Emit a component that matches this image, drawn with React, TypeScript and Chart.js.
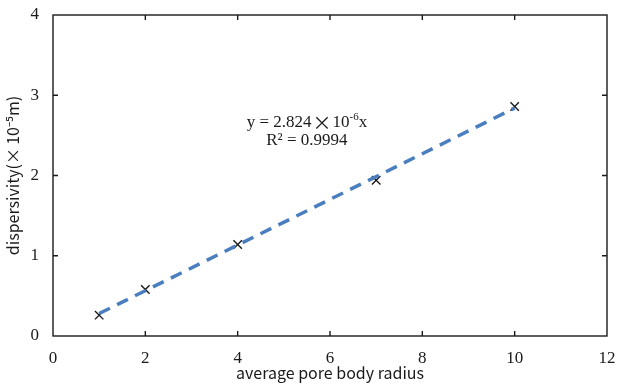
import React, { useEffect, useRef } from "react";
import { Chart, registerables } from "chart.js";

Chart.register(...registerables);

const radiusX = [1, 2, 4, 7, 10];
const dispersivityY = [0.26, 0.58, 1.14, 1.94, 2.86];
const fitX = [1, 10];
const fitY = [0.28, 2.84];
const xTicks = [0, 2, 4, 6, 8, 10, 12];
const yTicks = [0, 1, 2, 3, 4];
const eqParts = { pre: "y = 2.824", times: "\u00D7", ten: "10", sup: "-6", post: "x" };
const eqLine2 = "R\u00B2 = 0.9994";
const eqPos = { x: 5.5, y: 2.66 };

const framePlugin = {
  id: "frame",
  afterDraw(chart: any) {
    const { ctx, chartArea: a, scales } = chart;
    const xs = scales.x;
    const ys = scales.y;
    ctx.save();
    ctx.strokeStyle = "#1a1a1a";
    ctx.lineWidth = 1.4;
    ctx.strokeRect(a.left, a.top, a.right - a.left, a.bottom - a.top);
    const tl = 5;
    ctx.beginPath();
    xTicks.slice(1, -1).forEach((v) => {
      const px = xs.getPixelForValue(v);
      ctx.moveTo(px, a.bottom);
      ctx.lineTo(px, a.bottom - tl);
      ctx.moveTo(px, a.top);
      ctx.lineTo(px, a.top + tl);
    });
    yTicks.slice(1, -1).forEach((v) => {
      const py = ys.getPixelForValue(v);
      ctx.moveTo(a.left, py);
      ctx.lineTo(a.left + tl, py);
      ctx.moveTo(a.right, py);
      ctx.lineTo(a.right - tl, py);
    });
    ctx.stroke();

    // equation text
    const cx = xs.getPixelForValue(eqPos.x);
    const cy = ys.getPixelForValue(eqPos.y);
    ctx.fillStyle = "#1a1a1a";
    ctx.textBaseline = "middle";
    const big = "17px 'Liberation Serif', serif";
    const cross = "19px 'Noto Sans CJK SC', 'DejaVu Sans', sans-serif";
    const small = "11px 'Liberation Serif', serif";
    const parts = [
      { t: eqParts.pre, f: big, dy: 0, pad: 1 },
      { t: eqParts.times, f: cross, dy: 0, pad: 1 },
      { t: eqParts.ten, f: big, dy: 0, pad: 0 },
      { t: eqParts.sup, f: small, dy: -5, pad: 0 },
      { t: eqParts.post, f: big, dy: 0, pad: 0 },
    ];
    let total = 0;
    const widths = parts.map((p) => {
      ctx.font = p.f;
      const w = ctx.measureText(p.t).width + p.pad;
      total += w;
      return w;
    });
    let x0 = cx - total / 2;
    ctx.textAlign = "left";
    parts.forEach((p, i) => {
      ctx.font = p.f;
      ctx.fillText(p.t, x0, cy + p.dy);
      x0 += widths[i];
    });
    ctx.font = big;
    ctx.textAlign = "center";
    ctx.fillText(eqLine2, cx, cy + 18);
    ctx.restore();
  },
};

export default function App() {
  const ref = useRef<HTMLCanvasElement | null>(null);
  useEffect(() => {
    document.body.style.margin = "0";
    const canvas = ref.current;
    if (!canvas) return;
    const tickFont = { family: "'Liberation Serif', serif", size: 17 };
    const titleFont = { family: "'Noto Sans CJK SC', 'Noto Sans', sans-serif", size: 16 };
    const chart = new Chart(canvas, {
      type: "scatter",
      data: {
        datasets: [
          {
            type: "line",
            label: "fit",
            data: fitX.map((x, i) => ({ x, y: fitY[i] })),
            borderColor: "#4A7EBF",
            borderWidth: 3.5,
            borderDash: [12, 8],
            pointRadius: 0,
            fill: false,
          } as any,
          {
            label: "data",
            data: radiusX.map((x, i) => ({ x, y: dispersivityY[i] })),
            pointStyle: "crossRot",
            pointRadius: 6,
            borderColor: "#1a1a1a",
            backgroundColor: "#1a1a1a",
            borderWidth: 1.4,
          },
        ],
      },
      options: {
        responsive: false,
        animation: false,
        maintainAspectRatio: false,
        layout: { padding: { top: 15, right: 12, left: 0, bottom: 0 } },
        plugins: { legend: { display: false }, tooltip: { enabled: false } },
        scales: {
          x: {
            type: "linear",
            min: 0,
            max: 12,
            afterBuildTicks: (s: any) => {
              s.ticks = xTicks.map((v) => ({ value: v }));
            },
            afterFit: (s: any) => {
              s.height = 49;
              s.paddingLeft = 0;
              s.paddingRight = 0;
            },
            grid: { display: false, drawTicks: false },
            border: { display: false },
            ticks: { font: tickFont, color: "#1a1a1a", padding: 12, maxRotation: 0 },
            title: {
              display: true,
              text: "average pore body radius",
              font: titleFont,
              color: "#1a1a1a",
              padding: { top: 0, bottom: 2 },
            },
          },
          y: {
            type: "linear",
            min: 0,
            max: 4,
            afterBuildTicks: (s: any) => {
              s.ticks = yTicks.map((v) => ({ value: v }));
            },
            afterFit: (s: any) => {
              s.width = 53;
              s.paddingTop = 0;
              s.paddingBottom = 0;
            },
            grid: { display: false, drawTicks: false },
            border: { display: false },
            ticks: { font: tickFont, color: "#1a1a1a", padding: 14 },
            title: {
              display: true,
              text: "dispersivity(\u00D7\u200910\u207B\u2075m)",
              font: titleFont,
              color: "#1a1a1a",
              padding: { top: 3, bottom: 0 },
            },
          },
        },
      },
      plugins: [framePlugin],
    });
    return () => chart.destroy();
  }, []);
  return (
    <div style={{ width: 619, height: 385, background: "#fff" }}>
      <canvas ref={ref} width={619} height={385} style={{ display: "block" }} />
    </div>
  );
}
